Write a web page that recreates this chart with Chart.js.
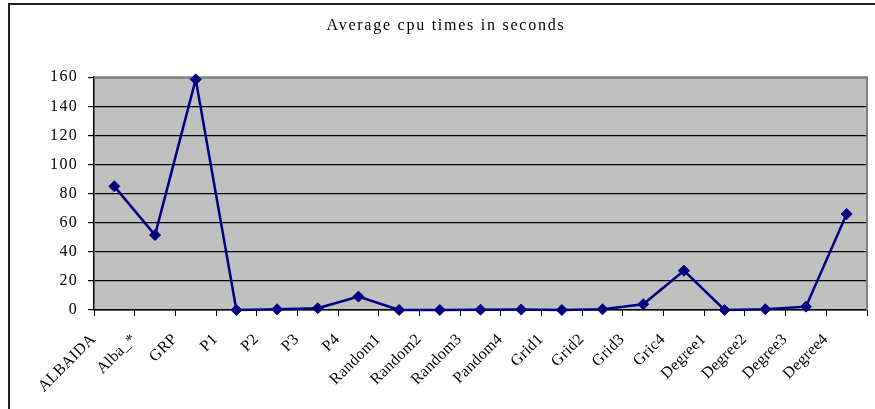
<!DOCTYPE html>
<html>
<head>
<meta charset="utf-8">
<script src="https://cdn.jsdelivr.net/npm/chart.js@4/dist/chart.umd.min.js"></script>
<style>
  html, body { margin: 0; padding: 0; background: #ffffff; }
  #wrap { position: relative; width: 875px; height: 409px; }
</style>
</head>
<body>
<div id="wrap"><canvas id="cpu" width="875" height="409"></canvas></div>
<script>
// Categories on the x axis (labels kept as printed)
const categories = [
  'ALBAIDA', 'Alba_*', 'GRP', 'P1', 'P2', 'P3', 'P4',
  'Random1', 'Random2', 'Random3', 'Pandom4',
  'Grid1', 'Grid2', 'Grid3', 'Gric4',
  'Degree1', 'Degree2', 'Degree3', 'Degree4'
];

// Average cpu time per method, in seconds
const cpuSeconds = [
  85, 51.5, 158.5, 0, 0.5, 1.2, 9.2,
  0, 0, 0.2, 0.3,
  0, 0.5, 4, 27,
  0, 0.5, 2.3, 66
];

// Value axis ticks
const yTickValues = [0, 20, 40, 60, 80, 100, 120, 140, 160];

const chartTitle = 'Average cpu times in seconds';

const SERIF = '"Liberation Serif", "Times New Roman", serif';

// Run a drawing method with a given canvas letter spacing.
function withSpacing(obj, method, spacing) {
  if (!obj || obj['__spaced_' + method]) return;
  const orig = obj[method];
  obj[method] = function (...args) {
    const ctx = this.ctx;
    ctx.save();
    ctx.letterSpacing = spacing;
    const r = orig.apply(this, args);
    ctx.restore();
    return r;
  };
  obj['__spaced_' + method] = true;
}

// Grey plot background, plot border, outer frame and letter spacing of texts.
const excelLook = {
  id: 'excelLook',
  afterLayout(chart) {
    withSpacing(chart.titleBlock, 'draw', '1.75px');
    withSpacing(chart.scales.y, 'drawLabels', '1.3px');
    withSpacing(chart.scales.x, 'drawLabels', '0.3px');
  },
  beforeDraw(chart) {
    const ctx = chart.ctx;
    const a = chart.chartArea;
    ctx.save();
    ctx.fillStyle = '#c0c0c0';
    ctx.fillRect(a.left, a.top, a.right - a.left, a.bottom - a.top);
    // outer frame (left and top edges)
    ctx.strokeStyle = '#222222';
    ctx.lineWidth = 2;
    ctx.beginPath();
    ctx.moveTo(9, chart.height + 2);
    ctx.lineTo(9, 4);
    ctx.lineTo(chart.width + 2, 4);
    ctx.stroke();
    ctx.restore();
  },
  beforeDatasetsDraw(chart) {
    const ctx = chart.ctx;
    const a = chart.chartArea;
    ctx.save();
    ctx.strokeStyle = '#808080';
    ctx.lineWidth = 2;
    ctx.beginPath();
    ctx.moveTo(a.left, a.top);
    ctx.lineTo(a.right, a.top);
    ctx.lineTo(a.right, a.bottom);
    ctx.stroke();
    ctx.restore();
  }
};

new Chart(document.getElementById('cpu'), {
  type: 'line',
  data: {
    labels: categories,
    datasets: [{
      data: cpuSeconds,
      borderColor: '#000080',
      backgroundColor: '#000080',
      borderWidth: 2.5,
      pointStyle: 'rectRot',
      pointRadius: 5.5,
      pointBorderWidth: 1,
      pointBackgroundColor: '#000080',
      pointBorderColor: '#000080',
      tension: 0,
      clip: false
    }]
  },
  options: {
    responsive: false,
    animation: false,
    devicePixelRatio: 1,
    layout: { padding: { left: 25, right: 8, top: 0, bottom: 0 } },
    plugins: {
      legend: { display: false },
      tooltip: { enabled: false },
      title: {
        display: true,
        text: chartTitle,
        color: '#000000',
        font: { family: SERIF, size: 16, weight: 'normal' },
        padding: { top: 16, bottom: 42 }
      }
    },
    scales: {
      x: {
        type: 'category',
        offset: true,
        grid: {
          display: true,
          drawOnChartArea: false,
          drawTicks: true,
          tickLength: 6,
          tickColor: '#000000',
          offset: true
        },
        border: { display: true, color: '#000000', width: 1.5 },
        ticks: {
          autoSkip: false,
          maxRotation: 45,
          minRotation: 45,
          labelOffset: -21,
          padding: 14,
          color: '#000000',
          font: { family: SERIF, size: 16 }
        },
        afterFit(scale) { scale.height = 99; }
      },
      y: {
        min: 0,
        max: 160,
        afterBuildTicks(scale) {
          scale.ticks = yTickValues.map(v => ({ value: v }));
        },
        grid: {
          color: '#000000',
          lineWidth: 1.2,
          drawTicks: true,
          tickLength: 6,
          tickColor: '#000000'
        },
        border: { display: true, color: '#000000', width: 1.5 },
        ticks: {
          padding: 10,
          color: '#000000',
          font: { family: SERIF, size: 16 }
        },
        afterFit(scale) { scale.width = 69; }
      }
    }
  },
  plugins: [excelLook]
});
</script>
</body>
</html>
